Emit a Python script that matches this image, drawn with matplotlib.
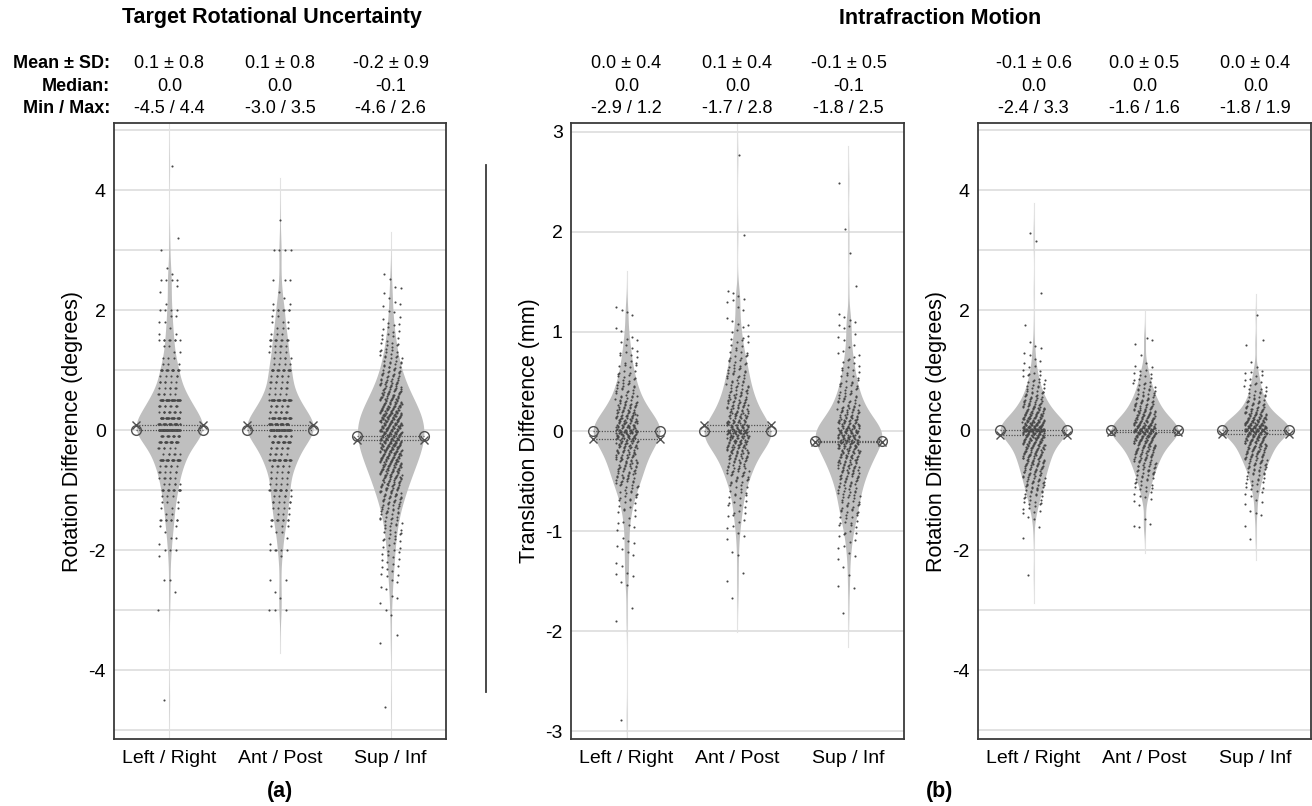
import matplotlib
matplotlib.use("Agg")
import matplotlib.pyplot as plt
import matplotlib.transforms as mtransforms
from matplotlib.lines import Line2D
import numpy as np

plt.rcParams["font.family"] = ["Liberation Sans", "DejaVu Sans"]

# ---- data: number of cases per value bin ----
CATEGORIES = ["Left / Right", "Ant / Post", "Sup / Inf"]

# (a) target rotational uncertainty, degrees (recorded in 0.1 deg steps)
ROT_LR_START, ROT_LR_STEP = -3.0, 0.1
ROT_LR_COUNTS = [1, 0, 0, 1, 0, 2, 0, 0, 0, 1,
                 3, 1, 2, 1, 2, 8, 2, 3, 3, 3,
                 13, 5, 6, 6, 6, 26, 6, 6, 23, 16,
                 50, 26, 27, 12, 10, 34, 6, 6, 6, 5,
                 17, 3, 3, 2, 2, 8, 2, 1, 2, 2,
                 4, 1, 0, 1, 1, 4, 1, 1, 0, 0,
                 1, 0, 1]
ROT_LR_EXTRA = [-4.5, 4.4]

ROT_AP_START, ROT_AP_STEP = -3.0, 0.1
ROT_AP_COUNTS = [3, 0, 1, 1, 0, 2, 0, 0, 0, 1,
                 5, 1, 1, 2, 3, 10, 3, 4, 6, 5,
                 14, 4, 5, 5, 7, 26, 7, 8, 22, 14,
                 45, 28, 26, 10, 9, 30, 4, 6, 7, 6,
                 18, 4, 5, 4, 5, 11, 3, 3, 3, 2,
                 7, 2, 1, 1, 0, 3, 0, 0, 0, 0,
                 4]
ROT_AP_EXTRA = [3.5]

ROT_SI_START, ROT_SI_STEP = -3.0, 0.05
ROT_SI_COUNTS = [1, 0, 1, 0, 1, 1, 0, 1, 1, 1,
                 1, 1, 2, 1, 2, 2, 1, 2, 2, 2,
                 2, 2, 2, 2, 3, 3, 3, 3, 3, 3,
                 4, 4, 4, 5, 5, 5, 6, 6, 7, 7,
                 8, 8, 9, 9, 10, 10, 11, 11, 12, 12,
                 14, 14, 14, 15, 15, 16, 16, 16, 17, 17,
                 17, 17, 17, 16, 16, 15, 15, 14, 13, 12,
                 11, 11, 10, 9, 8, 8, 7, 6, 6, 6,
                 5, 5, 4, 4, 4, 4, 3, 3, 3, 3,
                 2, 2, 2, 2, 2, 2, 1, 1, 1, 1,
                 1, 1, 1, 1, 1, 0, 1, 1, 1, 0,
                 1, 0, 1]
ROT_SI_EXTRA = [-4.6, -3.55, -3.4, -3.1]

# (b) intrafraction motion, translation in mm
TR_LR_START, TR_LR_STEP = -1.9, 0.05
TR_LR_COUNTS = [1, 0, 0, 1, 0, 0, 0, 1, 1, 2,
                1, 1, 1, 1, 2, 1, 2, 1, 1, 2,
                2, 2, 3, 3, 4, 5, 6, 7, 8, 10,
                10, 11, 11, 13, 14, 16, 17, 20, 28, 22,
                19, 16, 14, 12, 10, 8, 7, 7, 6, 5,
                4, 4, 3, 3, 3, 2, 2, 2, 1, 1,
                0, 1, 2, 1]
TR_LR_EXTRA = [-2.87]

TR_AP_START, TR_AP_STEP = -1.65, 0.05
TR_AP_COUNTS = [1, 0, 0, 1, 0, 1, 0, 0, 1, 1,
                0, 1, 1, 1, 2, 2, 2, 3, 3, 3,
                4, 4, 5, 6, 8, 9, 9, 10, 12, 14,
                16, 19, 22, 28, 20, 17, 15, 13, 12, 11,
                10, 9, 8, 7, 7, 7, 6, 5, 5, 4,
                3, 3, 3, 2, 2, 2, 1, 1, 1, 2,
                2, 2, 0]
TR_AP_EXTRA = [1.98, 2.75]

TR_SI_START, TR_SI_STEP = -1.8, 0.05
TR_SI_COUNTS = [1, 0, 0, 0, 0, 2, 0, 1, 0, 1,
                1, 1, 1, 2, 2, 2, 3, 3, 4, 5,
                6, 6, 6, 7, 7, 8, 9, 10, 11, 12,
                14, 15, 16, 18, 20, 23, 25, 19, 15, 13,
                11, 10, 8, 7, 6, 6, 5, 4, 4, 3,
                3, 3, 2, 2, 1, 1, 1, 3, 2, 1,
                1, 0, 0, 0, 0, 1]
TR_SI_EXTRA = [1.8, 2.02, 2.5]

# (b) intrafraction motion, rotation in degrees
RM_LR_START, RM_LR_STEP = -1.8, 0.05
RM_LR_COUNTS = [1, 0, 0, 0, 1, 0, 1, 1, 1, 2,
                2, 3, 3, 3, 4, 4, 5, 5, 6, 6,
                6, 7, 7, 8, 8, 9, 9, 10, 10, 11,
                11, 12, 13, 14, 15, 17, 40, 20, 18, 16,
                14, 13, 11, 10, 9, 8, 7, 6, 5, 5,
                4, 4, 3, 3, 3, 2, 2, 2, 1, 1,
                1, 1, 1, 1, 1, 1]
RM_LR_EXTRA = [-2.4, 1.75, 2.3, 3.15, 3.3]

RM_AP_START, RM_AP_STEP = -1.6, 0.05
RM_AP_COUNTS = [2, 1, 1, 0, 0, 0, 0, 1, 1, 1,
                2, 2, 2, 3, 3, 3, 4, 4, 5, 5,
                6, 6, 7, 7, 8, 9, 9, 10, 12, 13,
                15, 18, 22, 18, 15, 13, 11, 10, 9, 8,
                7, 7, 6, 5, 5, 4, 4, 3, 3, 3,
                2, 2, 2, 2, 1, 0, 0, 1, 0, 0,
                0, 1, 1, 1]
RM_AP_EXTRA = []

RM_SI_START, RM_SI_STEP = -1.8, 0.05
RM_SI_COUNTS = [1, 0, 0, 0, 1, 0, 0, 0, 2, 1,
                0, 1, 1, 1, 1, 2, 2, 2, 3, 3,
                3, 4, 4, 5, 6, 6, 7, 8, 8, 9,
                10, 10, 12, 12, 14, 17, 26, 20, 17, 15,
                13, 11, 9, 7, 6, 6, 5, 4, 4, 3,
                3, 3, 2, 2, 2, 2, 1, 1, 0, 1,
                0, 0, 0, 0, 1, 0, 1]
RM_SI_EXTRA = [1.9]

# summary text shown above each panel
STAT_ROWS = ["Mean \u00b1 SD:", "Median:", "Min / Max:"]
ROT_STATS = [["0.1 \u00b1 0.8", "0.1 \u00b1 0.8", "-0.2 \u00b1 0.9"],
             ["0.0", "0.0", "-0.1"],
             ["-4.5 / 4.4", "-3.0 / 3.5", "-4.6 / 2.6"]]
TR_STATS = [["0.0 \u00b1 0.4", "0.1 \u00b1 0.4", "-0.1 \u00b1 0.5"],
            ["0.0", "0.0", "-0.1"],
            ["-2.9 / 1.2", "-1.7 / 2.8", "-1.8 / 2.5"]]
RM_STATS = [["-0.1 \u00b1 0.6", "0.0 \u00b1 0.5", "0.0 \u00b1 0.4"],
            ["0.0", "0.0", "0.0"],
            ["-2.4 / 3.3", "-1.6 / 1.6", "-1.8 / 1.9"]]


def expand(start, step, counts, extra):
    bins = np.round(start + step * np.arange(len(counts)), 3)
    vals = np.concatenate([np.repeat(bins, counts), np.asarray(extra, float)])
    return np.sort(vals)


VIOLIN = "#bfbfbf"
DOT = "#474747"
MARK = "#505050"
GRID = "#dadada"
FRAME = "#3a3a3a"
HALF = 0.3
JIT = 0.1


def draw_violin(ax, pos, vals, step):
    n = len(vals)
    med = np.median(vals)
    sig = np.median(np.abs(vals - med)) / 0.6745
    h = sig * (4.0 / (3.0 * n)) ** 0.2
    grid = np.linspace(vals.min() - 3 * h, vals.max() + 3 * h, 900)
    dens = np.exp(-0.5 * ((grid[:, None] - vals[None, :]) / h) ** 2).sum(axis=1)
    w = HALF * dens / dens.max()
    ax.plot([pos, pos], [grid[0], grid[-1]], color="#e4e4e4", lw=0.8, zorder=1.5)
    ax.fill_betweenx(grid, pos - w, pos + w, color=VIOLIN, lw=0, zorder=2)

    # scatter with a spread-out (low discrepancy) jitter
    k = np.arange(1, n + 1)
    xo = ((0.5 + k * 0.7548776662) % 1.0 - 0.5) * 2 * JIT
    yo = 0.0
    if step < 0.1:
        yo = ((0.5 + k * 0.5698402910) % 1.0 - 0.5) * 0.9 * step
    ax.scatter(pos + xo, vals + yo, s=2.3, color=DOT, lw=0, zorder=3)

    mean = vals.mean()
    for y in (mean, med):
        ax.plot([pos - HALF, pos + HALF], [y, y], ls=(0, (1, 1.2)),
                color=MARK, lw=0.9, zorder=4)
    ax.plot([pos - HALF, pos + HALF], [med, med], ls="none", marker="o", ms=7,
            mfc="none", mec=MARK, mew=1.0, zorder=5)
    ax.plot([pos - HALF, pos + HALF], [mean, mean], ls="none", marker="x", ms=6,
            color=MARK, mew=1.0, zorder=5)


def style_axes(ax, ylim, major, minor, ylabel, stats, row_labels):
    ax.set_xlim(0.5, 3.5)
    ax.set_ylim(*ylim)
    ax.set_yticks(major)
    ax.set_yticklabels([f"{t:g}" for t in major])
    ax.set_yticks(minor, minor=True)
    ax.grid(True, which="both", axis="y", color=GRID, lw=1.1, zorder=0)
    ax.set_axisbelow(True)
    ax.set_xticks([1, 2, 3])
    ax.set_xticklabels(CATEGORIES)
    ax.tick_params(axis="both", which="both", length=0, labelsize=14,
                   colors="black")
    ax.tick_params(axis="x", pad=8)
    ax.tick_params(axis="y", pad=6)
    for sp in ax.spines.values():
        sp.set_color(FRAME)
        sp.set_linewidth(1.3)
    ax.set_ylabel(ylabel, fontsize=15.5)
    ax.yaxis.set_label_coords(-0.092, 0.5)
    tr = mtransforms.blended_transform_factory(ax.transData, fig.transFigure)
    for r, ypix in enumerate([68, 91, 113]):
        yf = 1 - ypix / 806
        for i in range(3):
            ax.text(i + 1, yf, stats[r][i], transform=tr, ha="center",
                    va="baseline", fontsize=13)
        if row_labels:
            fig.text(110 / 1312, yf, STAT_ROWS[r], ha="right", va="baseline",
                     fontsize=13, fontweight="bold")


fig = plt.figure(figsize=(13.12, 8.06), dpi=100)
bot = (806 - 739) / 806
hgt = 616 / 806
ax_a = fig.add_axes([114 / 1312, bot, 332 / 1312, hgt])
ax_t = fig.add_axes([571 / 1312, bot, 333 / 1312, hgt])
ax_r = fig.add_axes([978 / 1312, bot, 333 / 1312, hgt])

rot = [(expand(ROT_LR_START, ROT_LR_STEP, ROT_LR_COUNTS, ROT_LR_EXTRA), ROT_LR_STEP),
       (expand(ROT_AP_START, ROT_AP_STEP, ROT_AP_COUNTS, ROT_AP_EXTRA), ROT_AP_STEP),
       (expand(ROT_SI_START, ROT_SI_STEP, ROT_SI_COUNTS, ROT_SI_EXTRA), ROT_SI_STEP)]
trn = [(expand(TR_LR_START, TR_LR_STEP, TR_LR_COUNTS, TR_LR_EXTRA), TR_LR_STEP),
       (expand(TR_AP_START, TR_AP_STEP, TR_AP_COUNTS, TR_AP_EXTRA), TR_AP_STEP),
       (expand(TR_SI_START, TR_SI_STEP, TR_SI_COUNTS, TR_SI_EXTRA), TR_SI_STEP)]
rmo = [(expand(RM_LR_START, RM_LR_STEP, RM_LR_COUNTS, RM_LR_EXTRA), RM_LR_STEP),
       (expand(RM_AP_START, RM_AP_STEP, RM_AP_COUNTS, RM_AP_EXTRA), RM_AP_STEP),
       (expand(RM_SI_START, RM_SI_STEP, RM_SI_COUNTS, RM_SI_EXTRA), RM_SI_STEP)]

for ax, series in ((ax_a, rot), (ax_t, trn), (ax_r, rmo)):
    for i, (vals, step) in enumerate(series):
        draw_violin(ax, i + 1, vals, step)

style_axes(ax_a, (-5.15, 5.12), [-4, -2, 0, 2, 4], [-5, -3, -1, 1, 3, 5],
           "Rotation Difference (degrees)", ROT_STATS, True)
style_axes(ax_t, (-3.08, 3.09), [-3, -2, -1, 0, 1, 2, 3], [],
           "Translation Difference (mm)", TR_STATS, False)
style_axes(ax_r, (-5.15, 5.12), [-4, -2, 0, 2, 4], [-5, -3, -1, 1, 3, 5],
           "Rotation Difference (degrees)", RM_STATS, False)

fig.text(272 / 1312, 1 - 18 / 806, "Target Rotational Uncertainty", ha="center",
         va="center", fontsize=15.5, fontweight="bold")
fig.text(940 / 1312, 1 - 18 / 806, "Intrafraction Motion", ha="center",
         va="center", fontsize=15.5, fontweight="bold")
fig.text(280 / 1312, 1 - 791 / 806, "(a)", ha="center", va="center",
         fontsize=15.5, fontweight="bold")
fig.text(940 / 1312, 1 - 791 / 806, "(b)", ha="center", va="center",
         fontsize=15.5, fontweight="bold")
fig.add_artist(Line2D([486 / 1312, 486 / 1312], [1 - 165 / 806, 1 - 692 / 806],
                      color=FRAME, lw=1.3))

fig.savefig("out.png", dpi=100)
